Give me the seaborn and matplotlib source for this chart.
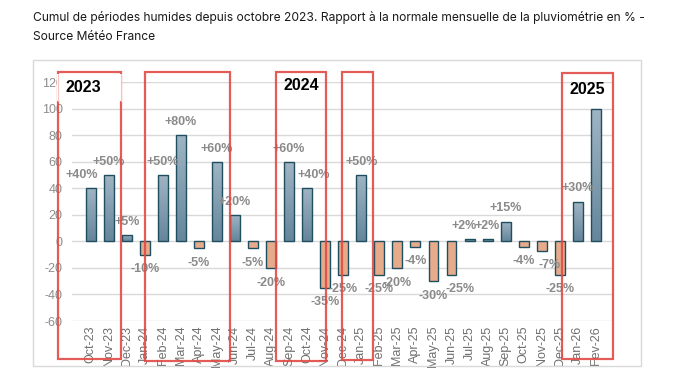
import numpy as np
import pandas as pd
import matplotlib
matplotlib.use("Agg")
import matplotlib.pyplot as plt
from matplotlib.patches import Rectangle
from matplotlib.lines import Line2D
from matplotlib.colors import LinearSegmentedColormap
import seaborn as sns

# -------------------------------------------------------
# Data
# -------------------------------------------------------

months = [
    "Oct-23", "Nov-23", "Dec-23",
    "Jan-24", "Feb-24", "Mar-24", "Apr-24", "May-24", "Jun-24",
    "Jul-24", "Aug-24", "Sep-24", "Oct-24", "Nov-24", "Dec-24",
    "Jan-25", "Feb-25", "Mar-25", "Apr-25", "May-25", "Jun-25",
    "Jul-25", "Aug-25", "Sep-25", "Oct-25", "Nov-25", "Dec-25",
    "Jan-26", "Fev-26",
]

values = [
    40, 50, 5,
    -10, 50, 80, -5, 60, 20,
    -5, -20, 60, 40, -35, -25,
    50, -25, -20, -4, -30, -25,
    2, 2, 15, -4, -7, -25,
    30, 100,
]

labels = [
    "+40%", "+50%", "+5%",
    "-10%", "+50%", "+80%", "-5%", "+60%", "+20%",
    "-5%", "-20%", "+60%", "+40%", "-35%", "-25%",
    "+50%", "-25%", "-20%", "-4%", "-30%", "-25%",
    "+2%", "+2%", "+15%", "-4%", "-7%", "-25%",
    "+30%", "",
]

yticks = [-60, -40, -20, 0, 20, 40, 60, 80, 100, 120]

title = ("Cumul de périodes humides depuis octobre 2023. Rapport à la normale "
         "mensuelle de la pluviométrie en % -\nSource Météo France")

# year boxes drawn over the chart (pixel coords: x0, y0, x1, y1, label)
boxes = [
    (58, 72, 121, 359, "2023"),
    (145, 72, 230, 361, ""),
    (276, 72, 326, 361, "2024"),
    (342, 72, 373, 360, ""),
    (562, 73, 613, 359, "2025"),
]

# small horizontal label nudges (pixels) copied from the original layout
nudge = {0: -9, 12: 7, 20: 9, 21: -5, 25: 8}

df = pd.DataFrame({
    "Month": months,
    "Value": values,
    "Sign": ["pos" if v >= 0 else "neg" for v in values],
})

# -------------------------------------------------------
# Figure
# -------------------------------------------------------

W, H = 676, 376
sns.set_style("white")
plt.rcParams["font.family"] = ["Liberation Sans", "DejaVu Sans"]

fig = plt.figure(figsize=(W / 100, H / 100), dpi=100)
fig.patch.set_facecolor("white")


def fx(px):
    return px / W


def fy(py):
    return 1 - py / H


ax = fig.add_axes([fx(71.7), fy(321), fx(613) - fx(71.7), fy(82.3) - fy(321)])

sns.barplot(
    data=df,
    x="Month",
    y="Value",
    hue="Sign",
    order=months,
    palette={"pos": "#7f9cb1", "neg": "#f4a77c"},
    dodge=False,
    width=0.55,
    edgecolor="#1f4e5f",
    linewidth=1.0,
    legend=False,
    ax=ax,
    zorder=3,
)

# gradient fill on the positive bars
cmap = LinearSegmentedColormap.from_list("bluegray", ["#66869c", "#a0b5c4"])
for p in list(ax.patches):
    if p.get_height() > 0:
        x0 = p.get_x()
        x1 = x0 + p.get_width()
        y0 = p.get_y()
        y1 = y0 + p.get_height()
        im = ax.imshow(
            np.linspace(0, 1, 64).reshape(-1, 1),
            cmap=cmap,
            extent=[x0, x1, y0, y1],
            origin="lower",
            aspect="auto",
            zorder=3,
        )
        im.set_clip_path(p)
        p.set_facecolor("none")
        p.set_zorder(4)

ax.set_xlim(-1.05, 28.95)
ax.set_ylim(-60, 120)
ax.set_yticks(yticks)
ax.set_yticklabels([str(t) for t in yticks], fontsize=9, color="#8c8c8c")
ax.set_xticks(range(len(months)))
ax.set_xticklabels(months, rotation=90, fontsize=9, color="#6f6f6f")
ax.tick_params(axis="x", length=0, pad=3.5)
ax.tick_params(axis="y", length=0, pad=6.5)
ax.set_xlabel("")
ax.set_ylabel("")
ax.grid(axis="y", color="#d9d9d9", linewidth=1)
ax.set_axisbelow(True)
for s in ax.spines.values():
    s.set_visible(False)

# value labels
for i, (v, lab) in enumerate(zip(values, labels)):
    if not lab:
        continue
    dx = nudge.get(i, 0) * 0.72
    dy = 9.5 if v >= 0 else -10.5
    ax.annotate(
        lab,
        xy=(i, v),
        xytext=(dx, dy),
        textcoords="offset points",
        ha="center",
        va="center",
        fontsize=9,
        fontweight="bold",
        color="#8a8a8a",
        zorder=5,
    )

# -------------------------------------------------------
# Frame, title and year boxes
# -------------------------------------------------------

fig.add_artist(Rectangle((fx(33), fy(366)), fx(641) - fx(33), fy(60) - fy(366),
                         transform=fig.transFigure, fill=False,
                         edgecolor="#d9d9d9", linewidth=1))

fig.text(fx(33), fy(11), title, ha="left", va="top", fontsize=8.7,
         color="#1a1a1a", family=["Inter", "DejaVu Sans"], linespacing=1.75)

red = "#e24a45"
for x0, y0, x1, y1, year in boxes:
    fig.add_artist(Rectangle((fx(x0), fy(y1)), fx(x1) - fx(x0), fy(y0) - fy(y1),
                             transform=fig.transFigure, fill=False,
                             edgecolor=red, linewidth=1.6, alpha=0.9, zorder=6))
    if year == "2023":
        fig.add_artist(Rectangle((fx(x0 - 1), fy(101)), fx(x1 + 1) - fx(x0 - 1),
                                 fy(73.5) - fy(101), transform=fig.transFigure,
                                 facecolor="white", edgecolor="none", zorder=7))
        fig.add_artist(Line2D([fx(x0), fx(x0)], [fy(101), fy(73.5)],
                              transform=fig.transFigure, color="#f4c4c2",
                              linewidth=0.8, zorder=8))
        fig.add_artist(Line2D([fx(x1), fx(x1)], [fy(101), fy(73.5)],
                              transform=fig.transFigure, color="#f4c4c2",
                              linewidth=0.8, zorder=8))
        fig.text(fx(83), fy(88), year, ha="center", va="center", fontsize=11.5,
                 fontweight="bold", color="black", zorder=9)
    elif year:
        yc = 86 if year == "2024" else 89
        fig.text(fx((x0 + x1) / 2), fy(yc), year, ha="center", va="center",
                 fontsize=11.5, fontweight="bold", color="black", zorder=9)

fig.savefig("out.png", dpi=100, facecolor="white")
plt.close(fig)
